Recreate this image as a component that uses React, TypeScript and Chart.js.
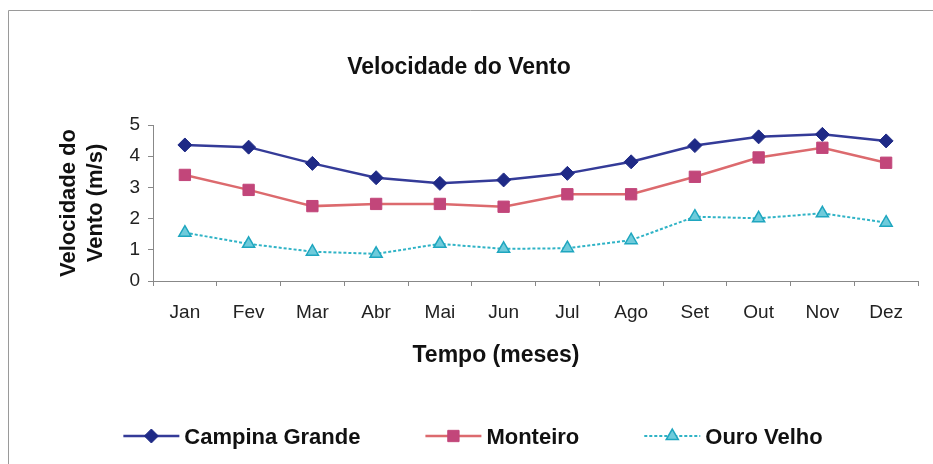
import React, { useEffect, useRef } from 'react';
import { Chart, registerables } from 'chart.js';

Chart.register(...registerables);

const months = ['Jan', 'Fev', 'Mar', 'Abr', 'Mai', 'Jun', 'Jul', 'Ago', 'Set', 'Out', 'Nov', 'Dez'];
const campinaGrande = [4.36, 4.29, 3.77, 3.31, 3.13, 3.24, 3.45, 3.82, 4.34, 4.62, 4.7, 4.49];
const monteiro = [3.4, 2.92, 2.4, 2.47, 2.47, 2.38, 2.78, 2.78, 3.34, 3.96, 4.27, 3.79];
const ouroVelho = [1.55, 1.19, 0.94, 0.87, 1.19, 1.03, 1.05, 1.31, 2.06, 2.01, 2.17, 1.87];
const yTicks = [0, 1, 2, 3, 4, 5];
const seriesNames = ['Campina Grande', 'Monteiro', 'Ouro Velho'];
const chartTitle = 'Velocidade do Vento';
const xTitle = 'Tempo (meses)';
const yTitle = ['Velocidade do', 'Vento (m/s)'];

const FONT = "'Liberation Sans', Arial, sans-serif";

function drawMarker(ctx: CanvasRenderingContext2D, style: string, x: number, y: number, r: number) {
  ctx.beginPath();
  if (style === 'rectRot') {
    ctx.moveTo(x, y - r);
    ctx.lineTo(x + r, y);
    ctx.lineTo(x, y + r);
    ctx.lineTo(x - r, y);
    ctx.closePath();
  } else if (style === 'rect') {
    const s = r * Math.SQRT1_2;
    ctx.rect(x - s, y - s, 2 * s, 2 * s);
  } else {
    const h = r * 1.5;
    const w = r * Math.sqrt(3) / 2;
    ctx.moveTo(x, y - h * 2 / 3);
    ctx.lineTo(x + w, y + h / 3);
    ctx.lineTo(x - w, y + h / 3);
    ctx.closePath();
  }
  ctx.fill();
  ctx.stroke();
}

const extrasPlugin = {
  id: 'extras',
  afterDraw(chart: any) {
    const ctx: CanvasRenderingContext2D = chart.ctx;
    ctx.save();
    // frame
    ctx.strokeStyle = '#9a9a9a';
    ctx.lineWidth = 1;
    ctx.beginPath();
    ctx.moveTo(8.5, chart.height);
    ctx.lineTo(8.5, 10.5);
    ctx.lineTo(chart.width, 10.5);
    ctx.stroke();

    // x axis title
    ctx.fillStyle = '#111';
    ctx.font = `bold 23px ${FONT}`;
    ctx.textAlign = 'center';
    ctx.textBaseline = 'alphabetic';
    ctx.fillText(xTitle, 496, 362);

    // legend
    ctx.font = `bold 22px ${FONT}`;
    const lineLen = 56;
    const textGap = 5;
    const itemGap = 65;
    const items = chart.data.datasets.map((ds: any) => ({
      ds,
      w: lineLen + textGap + ctx.measureText(ds.label).width,
    }));
    const total = items.reduce((a: number, it: any) => a + it.w, 0) + itemGap * (items.length - 1);
    let x = 473 - total / 2;
    const cy = 436;
    items.forEach((it: any) => {
      const ds = it.ds;
      ctx.save();
      ctx.strokeStyle = ds.borderColor;
      ctx.lineWidth = ds.borderWidth;
      ctx.setLineDash(ds.borderDash || []);
      ctx.beginPath();
      ctx.moveTo(x, cy);
      ctx.lineTo(x + lineLen, cy);
      ctx.stroke();
      ctx.setLineDash([]);
      ctx.fillStyle = ds.pointBackgroundColor;
      ctx.strokeStyle = ds.pointBorderColor;
      ctx.lineWidth = ds.pointBorderWidth || 1;
      drawMarker(ctx, ds.pointStyle, x + lineLen / 2, cy, ds.pointRadius);
      ctx.restore();
      ctx.fillStyle = '#111';
      ctx.textAlign = 'left';
      ctx.textBaseline = 'alphabetic';
      ctx.fillText(ds.label, x + lineLen + textGap, cy + 7.5);
      x += it.w + itemGap;
    });
    ctx.restore();
  },
};

export default function App() {
  const ref = useRef<HTMLCanvasElement | null>(null);

  useEffect(() => {
    if (!ref.current) return;
    const chart = new Chart(ref.current, {
      type: 'line',
      data: {
        labels: months,
        datasets: [
          {
            label: seriesNames[0],
            data: campinaGrande,
            borderColor: '#343b98',
            borderWidth: 2.5,
            pointStyle: 'rectRot',
            pointRadius: 7,
            pointBackgroundColor: '#1f2a86',
            pointBorderColor: '#1f2a86',
            pointBorderWidth: 1,
            tension: 0,
          },
          {
            label: seriesNames[1],
            data: monteiro,
            borderColor: '#dc6a6e',
            borderWidth: 2.5,
            pointStyle: 'rect',
            pointRadius: 8,
            pointBackgroundColor: '#c2467a',
            pointBorderColor: '#c2467a',
            pointBorderWidth: 1,
            tension: 0,
          },
          {
            label: seriesNames[2],
            data: ouroVelho,
            borderColor: '#2fb3c6',
            borderWidth: 2,
            borderDash: [3, 2],
            pointStyle: 'triangle',
            pointRadius: 7,
            pointBackgroundColor: '#6fcbdb',
            pointBorderColor: '#1fa6bf',
            pointBorderWidth: 1.5,
            tension: 0,
          },
        ],
      },
      options: {
        responsive: false,
        animation: false,
        devicePixelRatio: 1,
        layout: { padding: { left: 0, right: 15, top: 0, bottom: 0 } },
        plugins: {
          legend: { display: false },
          tooltip: { enabled: false },
          title: {
            display: true,
            text: chartTitle,
            color: '#111',
            font: { family: FONT, size: 23, weight: 'bold' },
            padding: { top: 54, bottom: 43.4 },
          },
        },
        scales: {
          x: {
            type: 'category',
            offset: true,
            grid: {
              offset: true,
              drawOnChartArea: false,
              drawTicks: true,
              tickLength: 5,
              color: '#888',
            },
            border: { color: '#888', width: 1 },
            ticks: {
              color: '#222',
              font: { family: FONT, size: 19 },
              padding: 15,
              maxRotation: 0,
              autoSkip: false,
            },
            afterFit: (s: any) => {
              s.height = 183;
            },
          },
          y: {
            min: yTicks[0],
            max: yTicks[yTicks.length - 1],
            afterBuildTicks: (s: any) => {
              s.ticks = yTicks.map((v) => ({ value: v }));
            },
            grid: {
              drawOnChartArea: false,
              drawTicks: true,
              tickLength: 5,
              color: '#888',
            },
            border: { color: '#888', width: 1 },
            ticks: {
              color: '#222',
              font: { family: FONT, size: 19 },
              padding: 8,
            },
            title: {
              display: true,
              text: yTitle,
              color: '#111',
              font: { family: FONT, size: 22, weight: 'bold' },
              padding: { top: 56, bottom: 0 },
            },
            afterFit: (s: any) => {
              s.width = 153;
            },
          },
        },
      },
      plugins: [extrasPlugin],
    } as any);
    return () => chart.destroy();
  }, []);

  return (
    <div style={{ position: 'absolute', left: 0, top: 0, width: 933, height: 464, background: '#fff' }}>
      <canvas ref={ref} width={933} height={464} style={{ display: 'block' }} />
    </div>
  );
}
